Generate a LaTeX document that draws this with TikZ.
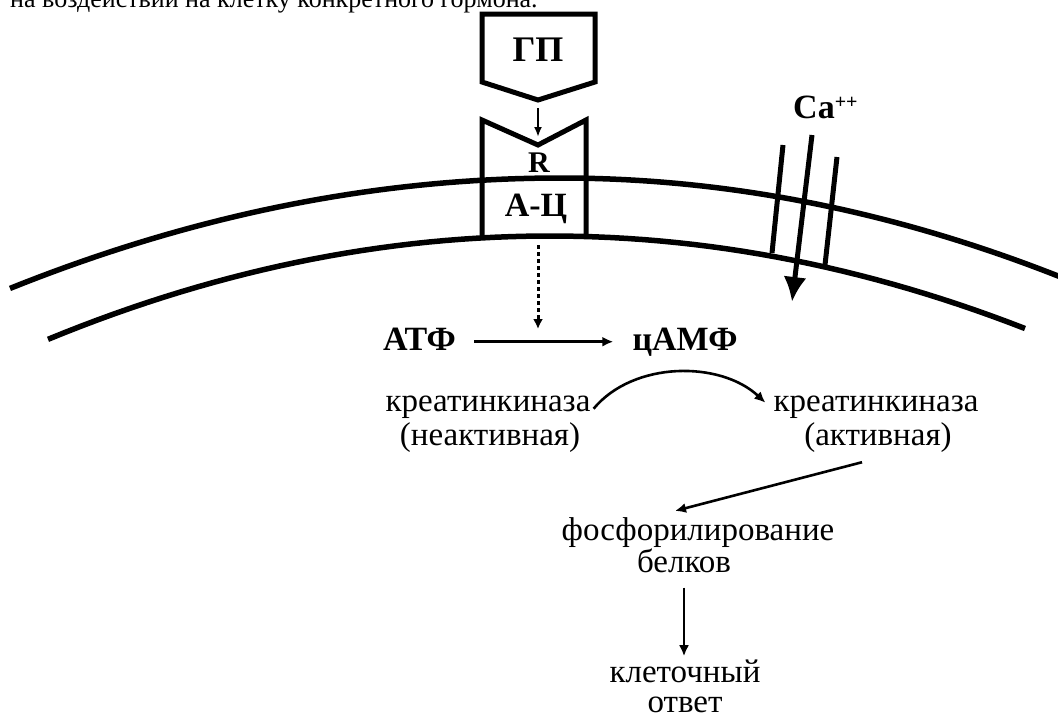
\documentclass[tikz,border=0pt]{standalone}
\usepackage{fontspec}
\setmainfont{Liberation Serif}
\usetikzlibrary{arrows.meta}
\begin{document}
\begin{tikzpicture}[x=1pt,y=-1pt,
  mem/.style={line width=5.5pt},
  boxline/.style={line width=5pt, line join=miter},
  arr/.style={line width=2.6pt, -{Latex[length=11pt,width=10pt]}},
  txt/.style={inner sep=0pt, font=\fontsize{33}{34}\selectfont},
  btxt/.style={inner sep=0pt, font=\fontsize{34}{36}\selectfont\bfseries},
]
\useasboundingbox (0,0) rectangle (1058,718);
\node[inner sep=0pt, anchor=base west, font=\fontsize{26}{28}\selectfont] (cap) at (10,7) {на воздействии на клетку конкретного гормона.};

% membrane
\draw[mem] plot[domain=10:560, samples=40] (\x,{178+3.65*((\x-560)/100)^2}) -- plot[domain=560:1064, samples=40] (\x,{178+3.95*((\x-560)/100)^2});
\draw[mem] plot[domain=48:1025, samples=60] (\x,{236+4.1*((\x-550)/100)^2});

% hormone
\draw[boxline] (482,14) -- (595,14) -- (595,82) -- (538,100) -- (482,82) -- cycle;
\node[inner sep=0pt, font=\fontsize{36}{38}\selectfont\bfseries] (gp) at (538,50) {ГП};
\coordinate (gptip) at (538,100);
\coordinate (notch) at (538,145);
\draw[line width=2pt, -{Latex[length=10pt,width=8pt]}, shorten <=8pt, shorten >=8pt] (gptip) -- (notch);

% receptor / adenylate cyclase
\draw[boxline] (482,238) -- (482,120) -- (538,145) -- (586,120) -- (586,238);
\node[inner sep=0pt, anchor=base, font=\fontsize{30}{32}\selectfont\bfseries] (r) at (539,172) {R};
\node[btxt, anchor=base] (ac) at (536,216) {А-Ц};

\coordinate (acbot) at (538,245);
\coordinate (cyc) at (538,329);
\draw[line width=3pt, dash pattern=on 4pt off 3pt, -{Latex[length=10pt,width=10pt]}] (acbot) -- (cyc);

% ATP -> cAMP
\node[btxt, anchor=base] (atp) at (419.5,350) {АТФ};
\node[btxt, anchor=base] (camp) at (685,350) {цАМФ};
\draw[arr] ([xshift=18pt,yshift=6pt]atp.mid east) -- ([xshift=-19pt,yshift=6pt]camp.mid west);

% kinase
\node[txt, anchor=base] (k1) at (488,411) {креатинкиназа};
\node[txt, anchor=base] (k1b) at (490,445) {(неактивная)};
\node[txt, anchor=base] (k2) at (876,411) {креатинкиназа};
\node[txt, anchor=base] (k2b) at (878,445) {(активная)};
\draw[arr] ([xshift=3pt]k1.mid east) .. controls +(40,-48) and +(-45,-42) .. ([xshift=-8pt,yshift=6pt]k2.mid west);

\node[txt, anchor=base] (ph) at (698,540) {фосфорилирование};
\node[txt, anchor=base] (bel) at (684,572) {белков};
\draw[arr] ([xshift=-16pt,yshift=-10pt]k2b.south) -- ([xshift=-23pt,yshift=6pt]ph.north);

\node[txt, anchor=base] (kl) at (685,682) {клеточный};
\node[txt, anchor=base] (otv) at (685,712) {ответ};
\draw[arr] ([yshift=-15pt]bel.south) -- ([yshift=3pt]bel.south |- kl.north);

% Ca channel
\node[btxt, anchor=base west] (ca) at (793,118) {Ca\raisebox{10pt}{\fontsize{20}{22}\selectfont ++}};
\draw[line width=5pt] (783,145) -- (772,253);
\draw[line width=5pt] (837,157) -- (825,265);
\draw[line width=5pt, -{Latex[length=25pt,width=23pt]}] (812,135) -- (792,302);
\end{tikzpicture}
\end{document}
